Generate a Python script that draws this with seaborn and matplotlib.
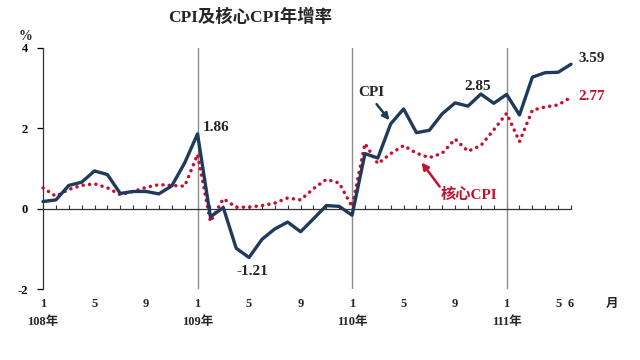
import pandas as pd
import matplotlib
matplotlib.use('Agg')
import matplotlib.pyplot as plt
import seaborn as sns

# 月份序號：108年1月 ~ 111年6月
months = list(range(42))
cpi = [0.18, 0.22, 0.58, 0.66, 0.94, 0.85, 0.38, 0.43, 0.43, 0.37, 0.57, 1.14,
       1.86, -0.20, 0.03, -0.98, -1.21, -0.76, -0.50, -0.33, -0.57, -0.25, 0.08, 0.06,
       -0.16, 1.37, 1.26, 2.11, 2.48, 1.89, 1.95, 2.36, 2.63, 2.55, 2.85, 2.62,
       2.84, 2.33, 3.27, 3.38, 3.39, 3.59]
core = [0.52, 0.31, 0.48, 0.58, 0.62, 0.52, 0.35, 0.43, 0.53, 0.60, 0.58, 0.56,
        1.35, -0.32, 0.25, 0.04, 0.04, 0.08, 0.14, 0.27, 0.22, 0.50, 0.73, 0.64,
        0.05, 1.62, 1.12, 1.37, 1.57, 1.38, 1.27, 1.38, 1.73, 1.43, 1.57, 1.96,
        2.37, 1.67, 2.45, 2.53, 2.58, 2.77]
month_labels = {0: '1', 4: '5', 8: '9', 12: '1', 16: '5', 20: '9', 24: '1',
                28: '5', 32: '9', 36: '1', 40: '5', 41: '6'}
year_labels = {0: '108年', 12: '109年', 24: '110年', 36: '111年'}

df = pd.DataFrame({'month': months, 'CPI': cpi, '核心CPI': core})

navy = '#1F3A5C'
red = '#C8102E'

sns.set_style('white')
plt.rcParams['font.family'] = ['Liberation Serif', 'Noto Sans CJK TC']
plt.rcParams['font.weight'] = 'bold'

fig = plt.figure(figsize=(6.4, 3.6), dpi=100)
ax = fig.add_axes([0.0672, 0.1964, 0.825, 0.671])

# 年分隔線
for x in [12, 24, 36]:
    ax.axvline(x, color='#8C8C8C', lw=1, zorder=1)

sns.lineplot(data=df, x='month', y='核心CPI', ax=ax, color=red, lw=2.5,
             linestyle=(0, (0.05, 1.8)), dash_capstyle='round', clip_on=False, zorder=3)
sns.lineplot(data=df, x='month', y='CPI', ax=ax, color=navy, lw=2.4,
             clip_on=False, zorder=4)

ax.set_xlim(0, 41)
ax.set_ylim(-2, 4)
ax.set_yticks([-2, 0, 2, 4])
ax.set_yticklabels(['-2', '0', '2', '4'], fontsize=9, fontweight='bold')
ax.set_xticks(months)
ax.set_xticklabels([])
ax.tick_params(axis='y', direction='out', length=4, width=0.9, pad=7, left=True, colors='black')
ax.tick_params(axis='x', direction='in', length=3, width=0.8, bottom=True, colors='#333333')
ax.set_xlabel('')
ax.set_ylabel('')

for s in ['top', 'right']:
    ax.spines[s].set_visible(False)
ax.spines['bottom'].set_position(('data', 0))
ax.spines['left'].set_color('#333333')
ax.spines['bottom'].set_color('#333333')
ax.spines['left'].set_linewidth(0.9)
ax.spines['bottom'].set_linewidth(0.9)

tr = ax.get_xaxis_transform()
for x, lab in month_labels.items():
    ax.text(x, -0.061, lab, transform=tr, ha='center', va='center', fontsize=9, fontweight='bold')
for x, lab in year_labels.items():
    ax.text(x, -0.135, lab, transform=tr, ha='center', va='center', fontsize=9, fontweight='bold')
ax.text(44.2, -0.061, '月', transform=tr, ha='center', va='center', fontsize=9, fontweight='bold')

fig.text(25 / 640, 1 - 37 / 360, '%', ha='center', va='center', fontsize=10, fontweight='bold')
fig.text(250 / 640, 1 - 17 / 360, 'CPI及核心CPI年增率', ha='center', va='center',
         fontsize=12.5, fontweight='bold')

# 標註
ax.text(12.4, 2.02, '1.86', ha='left', va='center', fontsize=11, fontweight='bold')
ax.text(15.0, -1.55, '-1.21', ha='left', va='center', fontsize=11, fontweight='bold')
ax.text(32.7, 3.03, '2.85', ha='left', va='center', fontsize=11, fontweight='bold')
ax.text(41.6, 3.73, '3.59', ha='left', va='center', fontsize=11, fontweight='bold')
ax.text(41.6, 2.80, '2.77', ha='left', va='center', fontsize=11, fontweight='bold', color=red)

ax.text(24.5, 2.9, 'CPI', ha='left', va='center', fontsize=11, fontweight='bold')
ax.annotate('', xy=(26.9, 2.2), xytext=(25.9, 2.6),
            arrowprops=dict(arrowstyle='-|>', color=navy, lw=1.8, mutation_scale=10,
                            shrinkA=0, shrinkB=0))
ax.text(30.9, 0.35, '核心CPI', ha='left', va='center', fontsize=11, fontweight='bold', color=red)
ax.annotate('', xy=(29.4, 1.15), xytext=(30.8, 0.55),
            arrowprops=dict(arrowstyle='-|>', color=red, lw=1.8, mutation_scale=10,
                            shrinkA=0, shrinkB=0))

fig.savefig('out.png', dpi=100, facecolor='white')
